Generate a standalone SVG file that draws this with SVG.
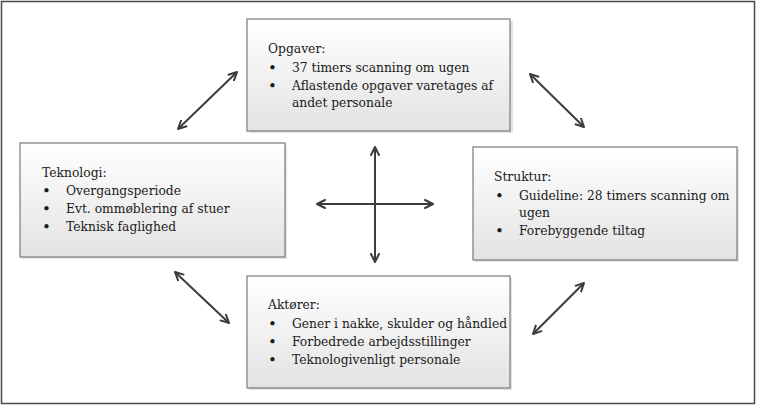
<svg xmlns="http://www.w3.org/2000/svg" width="759" height="407" viewBox="0 0 759 407">
<style>
  .box{fill:url(#g);stroke:#7a7a7a;stroke-width:1.2}
  .sh{fill:#c8c8c8;opacity:0.5}
  text{font-family:"DejaVu Serif","Liberation Serif",serif;font-size:12.3px;fill:#1a1a1a}
  .b{font-size:15px}
  .c{fill:none;stroke:#3c3c3c;stroke-width:2;marker-start:url(#a);marker-end:url(#a)}
</style>
<defs>
  <linearGradient id="g" x1="0" y1="0" x2="0" y2="1">
    <stop offset="0" stop-color="#ffffff"/>
    <stop offset="1" stop-color="#e3e3e3"/>
  </linearGradient>
  <marker id="a" viewBox="0 0 10 10" refX="9" refY="5" markerWidth="10" markerHeight="10" markerUnits="userSpaceOnUse" orient="auto-start-reverse">
    <path d="M1,1 L9,5 L1,9" fill="none" stroke="#3c3c3c" stroke-width="2" stroke-linecap="round" stroke-linejoin="round"/>
  </marker>
</defs>
<rect x="0" y="0" width="759" height="407" fill="#ffffff"/>
<rect x="1.5" y="1.5" width="753" height="402" fill="none" stroke="#4a4a4a" stroke-width="1.5"/>

<g id="opgaver">
  <rect class="sh" x="249" y="21" width="264" height="112"/>
  <rect class="box" x="247" y="19" width="263" height="112"/>
  <text x="268" y="53">Opgaver:</text>
  <text class="b" x="268" y="73">•</text><text x="292" y="72">37 timers scanning om ugen</text>
  <text class="b" x="268" y="91">•</text><text x="292" y="90">Aflastende opgaver varetages af</text>
  <text x="292" y="107">andet personale</text>
</g>

<g id="teknologi">
  <rect class="sh" x="22" y="145" width="265" height="114"/>
  <rect class="box" x="20" y="143" width="265" height="114"/>
  <text x="42" y="177">Teknologi:</text>
  <text class="b" x="42" y="196">•</text><text x="66" y="195">Overgangsperiode</text>
  <text class="b" x="42" y="214">•</text><text x="66" y="213">Evt. ommøblering af stuer</text>
  <text class="b" x="42" y="232">•</text><text x="66" y="231">Teknisk faglighed</text>
</g>

<g id="struktur">
  <rect class="sh" x="475" y="149" width="264" height="113"/>
  <rect class="box" x="473" y="147" width="264" height="113"/>
  <text x="494" y="181">Struktur:</text>
  <text class="b" x="495" y="201">•</text><text x="519" y="200">Guideline: 28 timers scanning om</text>
  <text x="519" y="217">ugen</text>
  <text class="b" x="495" y="236">•</text><text x="519" y="235">Forebyggende tiltag</text>
</g>

<g id="aktorer">
  <rect class="sh" x="249" y="278" width="263" height="112"/>
  <rect class="box" x="247" y="276" width="263" height="112"/>
  <text x="268" y="309">Aktører:</text>
  <text class="b" x="268" y="329">•</text><text x="292" y="328">Gener i nakke, skulder og håndled</text>
  <text class="b" x="268" y="347">•</text><text x="292" y="346">Forbedrede arbejdsstillinger</text>
  <text class="b" x="268" y="365">•</text><text x="292" y="364">Teknologivenligt personale</text>
</g>

<g id="connectors">
  <line class="c" x1="375" y1="147" x2="375" y2="262"/>
  <line class="c" x1="317" y1="204" x2="433" y2="204"/>
  <line class="c" x1="178" y1="129" x2="237" y2="72"/>
  <line class="c" x1="530" y1="74" x2="584" y2="127"/>
  <line class="c" x1="175" y1="272" x2="229" y2="323"/>
  <line class="c" x1="533" y1="334" x2="584" y2="283"/>
</g>
</svg>
